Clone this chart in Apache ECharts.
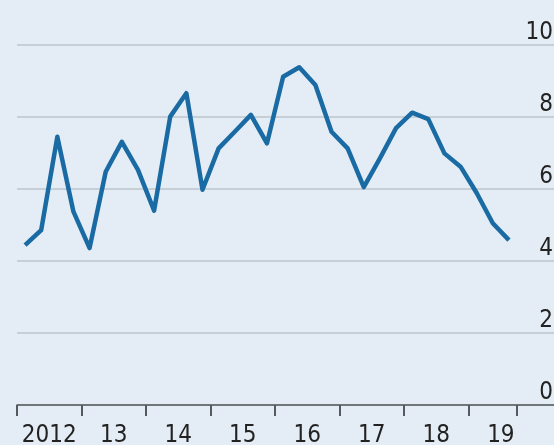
<!DOCTYPE html>
<html>
<head>
<meta charset="utf-8">
<script src="https://cdn.jsdelivr.net/npm/echarts@6/dist/echarts.min.js"></script>
<style>
html,body{margin:0;padding:0;background:#e4edf5;}
#c{width:554px;height:445px;}
</style>
</head>
<body>
<div id="c"></div>
<script>
// Quarterly values, 2012 Q1 .. 2019 Q3
const values = [4.44, 4.86, 7.45, 5.37, 4.36, 6.48, 7.31, 6.53, 5.40, 8.01, 8.66, 5.98,
  7.13, 7.59, 8.06, 7.27, 9.12, 9.38, 8.89, 7.59, 7.13, 6.05, 6.85, 7.69,
  8.12, 7.94, 6.99, 6.62, 5.89, 5.05, 4.58];
const yearLabels = ['2012', '13', '14', '15', '16', '17', '18', '19'];
const yTicks = [0, 2, 4, 6, 8, 10];

const W = 554, plotLeft = 17, tickEnd = 517;
const nQ = values.length;
const xMax = nQ * (W - plotLeft) / (tickEnd - plotLeft);

const tickVals = yearLabels.map((_, i) => i * 4).concat([nQ]);
const labelVals = yearLabels.map((_, i) => i * 4 + 2);
const fontFam = '"Liberation Sans Narrow", "DejaVu Sans Condensed", "Noto Sans", sans-serif';

const chart = echarts.init(document.getElementById('c'));
chart.setOption({
  backgroundColor: '#e4edf5',
  animation: false,
  grid: { left: plotLeft, right: 0, top: 45, bottom: 40, outerBoundsMode: 'none', containLabel: false },
  xAxis: {
    type: 'value', min: 0, max: xMax,
    axisLine: { show: true, lineStyle: { color: '#555a5e', width: 1.5 } },
    axisTick: { show: true, customValues: tickVals, length: 11, lineStyle: { color: '#555a5e', width: 2 } },
    axisLabel: {
      customValues: labelVals,
      formatter: v => yearLabels[Math.round((v - 2) / 4)] || '',
      fontFamily: fontFam, fontSize: 24, color: '#222', margin: 19
    },
    splitLine: { show: false }
  },
  yAxis: {
    type: 'value', min: yTicks[0], max: yTicks[yTicks.length - 1], interval: 2,
    position: 'right',
    axisLine: { show: false }, axisTick: { show: false },
    axisLabel: {
      inside: true, margin: 1, align: 'right', verticalAlign: 'bottom',
      padding: [0, 0, 0, 0],
      fontFamily: fontFam, fontSize: 24, color: '#222'
    },
    splitLine: { show: true, lineStyle: { color: '#c6ced6', width: 2 } }
  },
  series: [{
    type: 'line',
    data: values.map((v, i) => [i + 0.5, v]),
    showSymbol: false,
    lineStyle: { color: '#1a6ba3', width: 4.5, join: 'round' },
    z: 3
  }]
});
</script>
</body>
</html>
